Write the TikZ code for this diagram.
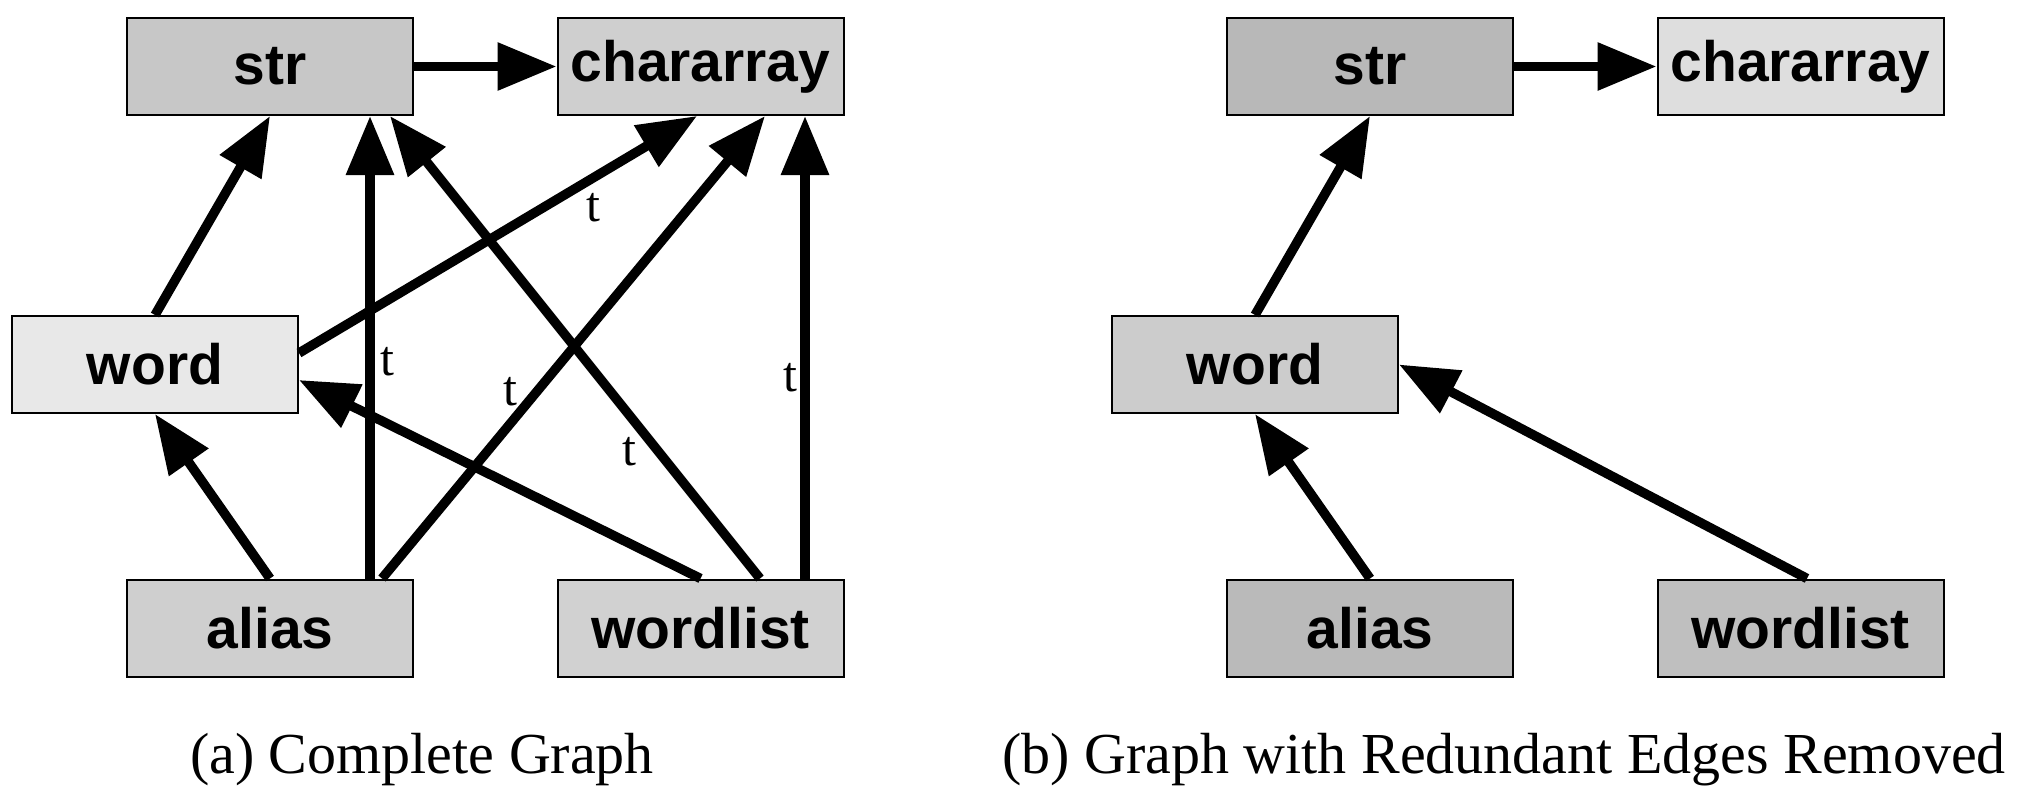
\documentclass[tikz,border=0pt]{standalone}
\usepackage{fontspec}
\setmainfont{Liberation Serif}
\setsansfont{Liberation Sans}
\usetikzlibrary{arrows.meta}
\begin{document}
\begin{tikzpicture}[x=0.5pt,y=-0.5pt,
  box/.style={draw=black, line width=1pt, minimum width=143pt, minimum height=48.5pt,
    inner sep=0pt, font=\sffamily\bfseries\fontsize{28.5}{28.5}\selectfont},
  edge/.style={line width=4.75pt, -{Triangle[length=29.5pt,width=23pt]}},
  lab/.style={font=\fontsize{25}{25}\selectfont, inner sep=0pt},
  captext/.style={font=\fontsize{29}{29}\selectfont, inner sep=0pt, anchor=base}]
\useasboundingbox (0,0) rectangle (2033,789);

% ---------- (a) complete graph ----------
\node[box, fill=black!22] (s1) at (270,66.5) {str};
\node[box, fill=black!19] (c1) at (700.5,66.5) {chararray};
\node[box, fill=black!9]  (w1) at (155,364.5) {word};
\node[box, fill=black!19] (a1) at (270,628) {alias};
\node[box, fill=black!18] (l1) at (700.5,628) {wordlist};

\draw[edge] (s1.east) -- (c1.west);
\draw[edge] (w1.north) -- (s1.south);
\draw[edge] (a1.north) -- (w1.south);
\draw[edge] ([xshift=50pt]a1.north) -- ([xshift=50pt]s1.south);
\draw[edge] ([xshift=56pt]a1.north) -- ([xshift=32.25pt]c1.south);
\draw[edge] ([yshift=5.75pt]w1.east) -- ([xshift=-1.75pt]c1.south);
\draw[edge] (l1.north) -- ([yshift=-7.75pt]w1.east);
\draw[edge] ([xshift=29.75pt]l1.north) -- ([xshift=60pt]s1.south);
\draw[edge] ([xshift=52.25pt]l1.north) -- ([xshift=52.25pt]c1.south);

\node[lab] (t1) at (593,208) {t};
\node[lab] (t2) at (387,362) {t};
\node[lab] (t3) at (510,392) {t};
\node[lab] (t4) at (629,452) {t};
\node[lab] (t5) at (790,378) {t};

\node[captext] (capa) at (422,773) {(a) Complete Graph};

% ---------- (b) redundant edges removed ----------
\node[box, fill=black!28] (s2) at (1370,66.5) {str};
\node[box, fill=black!13] (c2) at (1800.5,66.5) {chararray};
\node[box, fill=black!20] (w2) at (1255,364.5) {word};
\node[box, fill=black!27] (a2) at (1370,628) {alias};
\node[box, fill=black!25] (l2) at (1800.5,628) {wordlist};

\draw[edge] (s2.east) -- (c2.west);
\draw[edge] (w2.north) -- (s2.south);
\draw[edge] (a2.north) -- (w2.south);
\draw[edge] ([xshift=3.25pt]l2.north) -- (w2.east);

\node[captext] (capb) at (1504,773) {(b) Graph with Redundant Edges Removed};
\end{tikzpicture}
\end{document}
